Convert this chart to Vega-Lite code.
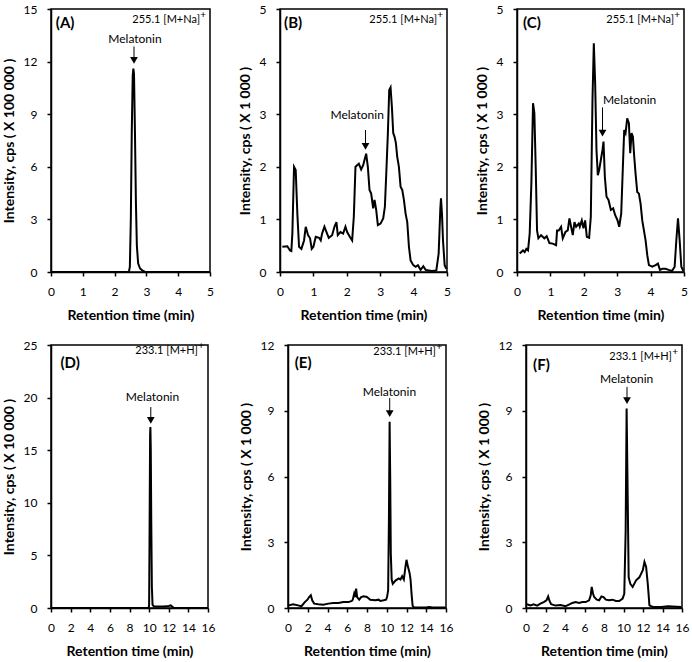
{
"$schema": "https://vega.github.io/schema/vega-lite/v6.json",
"background": "white",
"padding": {"left": 1, "top": 2, "right": 2, "bottom": 2},
"spacing": 15,
"datasets": {
"A": [{"t":0,"i":0},{"t":2.45,"i":0},{"t":2.48,"i":0.3},{"t":2.51,"i":3},{"t":2.54,"i":8},{"t":2.57,"i":11.2},{"t":2.59,"i":11.6},{"t":2.61,"i":11.3},{"t":2.64,"i":8},{"t":2.67,"i":4},{"t":2.7,"i":1.5},{"t":2.74,"i":0.5},{"t":2.8,"i":0.2},{"t":2.88,"i":0.08},{"t":2.95,"i":0.02},{"t":3.05,"i":0},{"t":5,"i":0}],
"B": [{"t":0.07,"i":0.48},{"t":0.22,"i":0.49},{"t":0.3,"i":0.41},{"t":0.34,"i":0.4},{"t":0.37,"i":0.73},{"t":0.42,"i":2.0},{"t":0.47,"i":1.94},{"t":0.52,"i":1.1},{"t":0.57,"i":0.48},{"t":0.64,"i":0.44},{"t":0.72,"i":0.6},{"t":0.77,"i":0.86},{"t":0.84,"i":0.7},{"t":0.9,"i":0.64},{"t":0.95,"i":0.44},{"t":1.0,"i":0.48},{"t":1.07,"i":0.67},{"t":1.17,"i":0.65},{"t":1.22,"i":0.6},{"t":1.26,"i":0.73},{"t":1.33,"i":0.86},{"t":1.41,"i":0.73},{"t":1.46,"i":0.65},{"t":1.56,"i":0.7},{"t":1.63,"i":0.86},{"t":1.69,"i":0.95},{"t":1.73,"i":0.7},{"t":1.81,"i":0.76},{"t":1.89,"i":0.73},{"t":1.96,"i":0.86},{"t":2.01,"i":0.76},{"t":2.09,"i":0.67},{"t":2.16,"i":0.6},{"t":2.21,"i":1.05},{"t":2.26,"i":2.0},{"t":2.31,"i":2.03},{"t":2.36,"i":2.06},{"t":2.43,"i":1.95},{"t":2.49,"i":2.03},{"t":2.53,"i":2.13},{"t":2.58,"i":2.25},{"t":2.63,"i":2.0},{"t":2.68,"i":1.56},{"t":2.73,"i":1.49},{"t":2.79,"i":1.21},{"t":2.83,"i":1.37},{"t":2.88,"i":1.18},{"t":2.93,"i":0.89},{"t":3.01,"i":0.92},{"t":3.09,"i":1.02},{"t":3.14,"i":1.24},{"t":3.19,"i":2.0},{"t":3.23,"i":2.64},{"t":3.27,"i":3.46},{"t":3.31,"i":3.51},{"t":3.35,"i":3.14},{"t":3.39,"i":2.64},{"t":3.43,"i":2.57},{"t":3.47,"i":2.45},{"t":3.51,"i":2.19},{"t":3.56,"i":2.0},{"t":3.61,"i":1.62},{"t":3.66,"i":1.56},{"t":3.71,"i":1.37},{"t":3.76,"i":1.11},{"t":3.81,"i":0.95},{"t":3.86,"i":0.48},{"t":3.91,"i":0.22},{"t":3.99,"i":0.13},{"t":4.06,"i":0.1},{"t":4.13,"i":0.13},{"t":4.21,"i":0.04},{"t":4.29,"i":0.11},{"t":4.36,"i":0.04},{"t":4.45,"i":0.03},{"t":4.55,"i":0.02},{"t":4.68,"i":0.03},{"t":4.75,"i":0.35},{"t":4.8,"i":1.2},{"t":4.82,"i":1.4},{"t":4.85,"i":1.1},{"t":4.88,"i":0.6},{"t":4.93,"i":0.13},{"t":4.98,"i":0.06}],
"C": [{"t":0.08,"i":0.35},{"t":0.18,"i":0.41},{"t":0.23,"i":0.38},{"t":0.28,"i":0.44},{"t":0.33,"i":0.41},{"t":0.38,"i":0.73},{"t":0.43,"i":1.68},{"t":0.48,"i":3.21},{"t":0.52,"i":3.02},{"t":0.56,"i":2.0},{"t":0.6,"i":0.79},{"t":0.64,"i":0.64},{"t":0.72,"i":0.7},{"t":0.82,"i":0.64},{"t":0.89,"i":0.68},{"t":0.97,"i":0.55},{"t":1.07,"i":0.54},{"t":1.17,"i":0.51},{"t":1.2,"i":0.79},{"t":1.25,"i":0.79},{"t":1.32,"i":0.86},{"t":1.37,"i":0.64},{"t":1.45,"i":0.76},{"t":1.52,"i":0.79},{"t":1.57,"i":1.02},{"t":1.62,"i":0.86},{"t":1.67,"i":0.7},{"t":1.72,"i":0.95},{"t":1.77,"i":0.86},{"t":1.85,"i":0.92},{"t":1.88,"i":0.86},{"t":1.94,"i":0.98},{"t":1.99,"i":0.83},{"t":2.04,"i":0.98},{"t":2.09,"i":0.67},{"t":2.16,"i":0.65},{"t":2.21,"i":1.05},{"t":2.26,"i":3.27},{"t":2.3,"i":4.35},{"t":2.34,"i":3.59},{"t":2.38,"i":2.32},{"t":2.42,"i":1.84},{"t":2.46,"i":1.94},{"t":2.51,"i":2.13},{"t":2.56,"i":2.32},{"t":2.59,"i":2.48},{"t":2.63,"i":1.81},{"t":2.68,"i":1.43},{"t":2.74,"i":1.37},{"t":2.81,"i":1.18},{"t":2.88,"i":1.21},{"t":2.94,"i":1.08},{"t":3.01,"i":0.98},{"t":3.06,"i":0.86},{"t":3.12,"i":1.11},{"t":3.17,"i":2.0},{"t":3.21,"i":2.7},{"t":3.25,"i":2.64},{"t":3.3,"i":2.92},{"t":3.35,"i":2.83},{"t":3.39,"i":2.26},{"t":3.43,"i":2.64},{"t":3.47,"i":2.57},{"t":3.51,"i":2.19},{"t":3.55,"i":1.87},{"t":3.6,"i":1.52},{"t":3.65,"i":1.49},{"t":3.7,"i":1.3},{"t":3.75,"i":0.98},{"t":3.8,"i":0.79},{"t":3.85,"i":0.6},{"t":3.9,"i":0.32},{"t":3.95,"i":0.13},{"t":4.05,"i":0.1},{"t":4.15,"i":0.13},{"t":4.22,"i":0.16},{"t":4.28,"i":0.04},{"t":4.35,"i":0.06},{"t":4.45,"i":0.06},{"t":4.54,"i":0.04},{"t":4.64,"i":0.02},{"t":4.72,"i":0.1},{"t":4.77,"i":0.6},{"t":4.82,"i":1.02},{"t":4.87,"i":0.6},{"t":4.92,"i":0.1},{"t":4.98,"i":0.02}],
"D": [{"t":0,"i":0},{"t":9.95,"i":0},{"t":10.0,"i":0.3},{"t":10.05,"i":8},{"t":10.1,"i":16.5},{"t":10.13,"i":17.2},{"t":10.17,"i":15},{"t":10.22,"i":8},{"t":10.28,"i":2},{"t":10.35,"i":0.3},{"t":10.5,"i":0.15},{"t":11.0,"i":0.15},{"t":11.5,"i":0.15},{"t":12.0,"i":0.2},{"t":12.2,"i":0.25},{"t":12.4,"i":0.1},{"t":12.5,"i":0},{"t":16,"i":0}],
"E": [{"t":0.07,"i":0.12},{"t":0.51,"i":0.17},{"t":1.02,"i":0.12},{"t":1.36,"i":0.08},{"t":1.7,"i":0.27},{"t":1.97,"i":0.38},{"t":2.14,"i":0.5},{"t":2.31,"i":0.58},{"t":2.45,"i":0.35},{"t":2.65,"i":0.2},{"t":3.06,"i":0.17},{"t":3.57,"i":0.15},{"t":4.08,"i":0.2},{"t":4.59,"i":0.23},{"t":5.1,"i":0.23},{"t":5.61,"i":0.27},{"t":6.12,"i":0.27},{"t":6.46,"i":0.32},{"t":6.56,"i":0.38},{"t":6.7,"i":0.65},{"t":6.8,"i":0.5},{"t":6.9,"i":0.88},{"t":7.0,"i":0.5},{"t":7.21,"i":0.38},{"t":7.41,"i":0.5},{"t":7.65,"i":0.53},{"t":7.99,"i":0.5},{"t":8.33,"i":0.38},{"t":8.84,"i":0.35},{"t":9.18,"i":0.38},{"t":9.35,"i":0.32},{"t":9.69,"i":0.35},{"t":9.93,"i":0.38},{"t":10.03,"i":0.5},{"t":10.14,"i":0.8},{"t":10.22,"i":4.0},{"t":10.29,"i":8.5},{"t":10.35,"i":6.0},{"t":10.41,"i":2.5},{"t":10.5,"i":1.3},{"t":10.61,"i":1.1},{"t":10.88,"i":1.25},{"t":11.22,"i":1.35},{"t":11.39,"i":1.3},{"t":11.56,"i":1.45},{"t":11.73,"i":1.3},{"t":11.9,"i":1.9},{"t":12.0,"i":2.2},{"t":12.14,"i":1.9},{"t":12.31,"i":1.6},{"t":12.41,"i":1.3},{"t":12.52,"i":0.6},{"t":12.62,"i":0.1},{"t":12.76,"i":0.03},{"t":13.27,"i":0.02},{"t":13.95,"i":0.02},{"t":14.3,"i":0.05},{"t":14.63,"i":0.02},{"t":15.95,"i":0.02}],
"F": [{"t":0.1,"i":0.17},{"t":0.45,"i":0.12},{"t":0.79,"i":0.17},{"t":1.14,"i":0.11},{"t":1.48,"i":0.2},{"t":1.82,"i":0.27},{"t":2.1,"i":0.35},{"t":2.27,"i":0.53},{"t":2.41,"i":0.32},{"t":2.58,"i":0.17},{"t":3.03,"i":0.11},{"t":3.54,"i":0.14},{"t":4.06,"i":0.08},{"t":4.4,"i":0.15},{"t":4.75,"i":0.23},{"t":5.09,"i":0.27},{"t":5.44,"i":0.23},{"t":5.78,"i":0.27},{"t":6.12,"i":0.27},{"t":6.47,"i":0.35},{"t":6.64,"i":0.58},{"t":6.74,"i":0.96},{"t":6.88,"i":0.65},{"t":6.99,"i":0.5},{"t":7.26,"i":0.38},{"t":7.5,"i":0.35},{"t":7.74,"i":0.53},{"t":7.95,"i":0.5},{"t":8.19,"i":0.38},{"t":8.53,"i":0.35},{"t":8.88,"i":0.38},{"t":9.22,"i":0.32},{"t":9.57,"i":0.32},{"t":9.91,"i":0.43},{"t":10.08,"i":0.65},{"t":10.22,"i":3.5},{"t":10.32,"i":9.1},{"t":10.43,"i":5.1},{"t":10.53,"i":1.4},{"t":10.7,"i":1.1},{"t":10.94,"i":0.96},{"t":11.29,"i":1.26},{"t":11.63,"i":1.4},{"t":11.98,"i":1.72},{"t":12.15,"i":2.1},{"t":12.32,"i":1.87},{"t":12.49,"i":1.1},{"t":12.66,"i":0.12},{"t":13.0,"i":0.05},{"t":13.87,"i":0.05},{"t":14.56,"i":0.08},{"t":15.93,"i":0.05}]
},
"vconcat": [
{"hconcat": [
{"width": 159, "height": 263,
 "encoding": {"x": {"field": "t", "type": "quantitative", "scale": {"domain": [0, 5], "nice": false}, "axis": {"values": [0,1,2,3,4,5], "labelOverlap": false, "labelSeparation": -40, "title": "Retention time (min)"}}, "y": {"field": "i", "type": "quantitative", "scale": {"domain": [0, 15], "nice": false}, "axis": {"values": [0,3,6,9,12,15], "labelOverlap": false, "title": "Intensity, cps ( X 100 000 )"}}},
 "layer": [
 {"data": {"name": "A"}, "mark": {"type": "line", "color": "black", "strokeWidth": 2}, "encoding": {}},
 {"data": {"values": [{"t": 0.15, "i": 14.2}]}, "mark": {"type": "text", "text": "(A)", "align": "left", "baseline": "middle", "fontSize": 15, "fontWeight": "bold"}},
 {"data": {"values": [{"t": 5, "i": 14.4}]}, "mark": {"type": "text", "text": "255.1 [M+Na]", "align": "right", "baseline": "middle", "fontSize": 11, "dx": -10}},
 {"data": {"values": [{"t": 5, "i": 14.4}]}, "mark": {"type": "text", "text": "+", "align": "right", "baseline": "middle", "fontSize": 10, "dx": -4, "dy": -5}},
 {"data": {"values": [{"t": 2.64, "i": 13.28}]}, "mark": {"type": "text", "text": "Melatonin", "align": "center", "baseline": "middle", "fontSize": 12}},
 {"data": {"values": [{"t": 2.61, "i": 12.86, "i2": 12.07}]}, "mark": {"type": "rule", "color": "black", "strokeWidth": 1}, "encoding": {"y2": {"field": "i2"}}},
 {"data": {"values": [{"t": 2.61, "i": 12.07}]}, "mark": {"type": "point", "shape": "triangle-down", "filled": true, "color": "black", "size": 60, "opacity": 1}}
]},
{"width": 167, "height": 263,
 "encoding": {"x": {"field": "t", "type": "quantitative", "scale": {"domain": [0, 5], "nice": false}, "axis": {"values": [0,1,2,3,4,5], "labelOverlap": false, "labelSeparation": -40, "title": "Retention time (min)"}}, "y": {"field": "i", "type": "quantitative", "scale": {"domain": [0, 5], "nice": false}, "axis": {"values": [0,1,2,3,4,5], "labelOverlap": false, "title": "Intensity, cps ( X 1 000 )"}}},
 "layer": [
 {"data": {"name": "B"}, "mark": {"type": "line", "color": "black", "strokeWidth": 2}, "encoding": {}},
 {"data": {"values": [{"t": 0.12, "i": 4.73}]}, "mark": {"type": "text", "text": "(B)", "align": "left", "baseline": "middle", "fontSize": 15, "fontWeight": "bold"}},
 {"data": {"values": [{"t": 5, "i": 4.8}]}, "mark": {"type": "text", "text": "255.1 [M+Na]", "align": "right", "baseline": "middle", "fontSize": 11, "dx": -10}},
 {"data": {"values": [{"t": 5, "i": 4.8}]}, "mark": {"type": "text", "text": "+", "align": "right", "baseline": "middle", "fontSize": 10, "dx": -4, "dy": -5}},
 {"data": {"values": [{"t": 2.31, "i": 2.99}]}, "mark": {"type": "text", "text": "Melatonin", "align": "center", "baseline": "middle", "fontSize": 12}},
 {"data": {"values": [{"t": 2.56, "i": 2.7, "i2": 2.39}]}, "mark": {"type": "rule", "color": "black", "strokeWidth": 1}, "encoding": {"y2": {"field": "i2"}}},
 {"data": {"values": [{"t": 2.56, "i": 2.39}]}, "mark": {"type": "point", "shape": "triangle-down", "filled": true, "color": "black", "size": 60, "opacity": 1}}
]},
{"width": 167, "height": 263,
 "encoding": {"x": {"field": "t", "type": "quantitative", "scale": {"domain": [0, 5], "nice": false}, "axis": {"values": [0,1,2,3,4,5], "labelOverlap": false, "labelSeparation": -40, "title": "Retention time (min)"}}, "y": {"field": "i", "type": "quantitative", "scale": {"domain": [0, 5], "nice": false}, "axis": {"values": [0,1,2,3,4,5], "labelOverlap": false, "title": "Intensity, cps ( X 1 000 )"}}},
 "layer": [
 {"data": {"name": "C"}, "mark": {"type": "line", "color": "black", "strokeWidth": 2}, "encoding": {}},
 {"data": {"values": [{"t": 0.18, "i": 4.73}]}, "mark": {"type": "text", "text": "(C)", "align": "left", "baseline": "middle", "fontSize": 15, "fontWeight": "bold"}},
 {"data": {"values": [{"t": 5, "i": 4.8}]}, "mark": {"type": "text", "text": "255.1 [M+Na]", "align": "right", "baseline": "middle", "fontSize": 11, "dx": -10}},
 {"data": {"values": [{"t": 5, "i": 4.8}]}, "mark": {"type": "text", "text": "+", "align": "right", "baseline": "middle", "fontSize": 10, "dx": -4, "dy": -5}},
 {"data": {"values": [{"t": 3.37, "i": 3.27}]}, "mark": {"type": "text", "text": "Melatonin", "align": "center", "baseline": "middle", "fontSize": 12}},
 {"data": {"values": [{"t": 2.56, "i": 3.13, "i2": 2.64}]}, "mark": {"type": "rule", "color": "black", "strokeWidth": 1}, "encoding": {"y2": {"field": "i2"}}},
 {"data": {"values": [{"t": 2.56, "i": 2.64}]}, "mark": {"type": "point", "shape": "triangle-down", "filled": true, "color": "black", "size": 60, "opacity": 1}}
]}
], "spacing": 70, "bounds": "flush"},
{"hconcat": [
{"width": 157, "height": 263,
 "encoding": {"x": {"field": "t", "type": "quantitative", "scale": {"domain": [0, 16], "nice": false}, "axis": {"values": [0,2,4,6,8,10,12,14,16], "labelOverlap": false, "labelSeparation": -40, "title": "Retention time (min)"}}, "y": {"field": "i", "type": "quantitative", "scale": {"domain": [0, 25], "nice": false}, "axis": {"values": [0,5,10,15,20,25], "labelOverlap": false, "title": "Intensity, cps ( X 10 000 )"}}},
 "layer": [
 {"data": {"name": "D"}, "mark": {"type": "line", "color": "black", "strokeWidth": 2}, "encoding": {}},
 {"data": {"values": [{"t": 0.96, "i": 23.3}]}, "mark": {"type": "text", "text": "(D)", "align": "left", "baseline": "middle", "fontSize": 15, "fontWeight": "bold"}},
 {"data": {"values": [{"t": 16, "i": 24.4}]}, "mark": {"type": "text", "text": "233.1 [M+H]", "align": "right", "baseline": "middle", "fontSize": 11, "dx": -10}},
 {"data": {"values": [{"t": 16, "i": 24.4}]}, "mark": {"type": "text", "text": "+", "align": "right", "baseline": "middle", "fontSize": 10, "dx": -4, "dy": -5}},
 {"data": {"values": [{"t": 10.34, "i": 20.1}]}, "mark": {"type": "text", "text": "Melatonin", "align": "center", "baseline": "middle", "fontSize": 12}},
 {"data": {"values": [{"t": 10.17, "i": 19.1, "i2": 17.83}]}, "mark": {"type": "rule", "color": "black", "strokeWidth": 1}, "encoding": {"y2": {"field": "i2"}}},
 {"data": {"values": [{"t": 10.17, "i": 17.83}]}, "mark": {"type": "point", "shape": "triangle-down", "filled": true, "color": "black", "size": 60, "opacity": 1}}
]},
{"width": 158, "height": 263,
 "encoding": {"x": {"field": "t", "type": "quantitative", "scale": {"domain": [0, 16], "nice": false}, "axis": {"values": [0,2,4,6,8,10,12,14,16], "labelOverlap": false, "labelSeparation": -40, "title": "Retention time (min)"}}, "y": {"field": "i", "type": "quantitative", "scale": {"domain": [0, 12], "nice": false}, "axis": {"values": [0,3,6,9,12], "labelOverlap": false, "title": "Intensity, cps ( X 1 000 )"}}},
 "layer": [
 {"data": {"name": "E"}, "mark": {"type": "line", "color": "black", "strokeWidth": 2}, "encoding": {}},
 {"data": {"values": [{"t": 0.68, "i": 11.16}]}, "mark": {"type": "text", "text": "(E)", "align": "left", "baseline": "middle", "fontSize": 15, "fontWeight": "bold"}},
 {"data": {"values": [{"t": 16, "i": 11.7}]}, "mark": {"type": "text", "text": "233.1 [M+H]", "align": "right", "baseline": "middle", "fontSize": 11, "dx": -10}},
 {"data": {"values": [{"t": 16, "i": 11.7}]}, "mark": {"type": "text", "text": "+", "align": "right", "baseline": "middle", "fontSize": 10, "dx": -4, "dy": -5}},
 {"data": {"values": [{"t": 10.27, "i": 9.86}]}, "mark": {"type": "text", "text": "Melatonin", "align": "center", "baseline": "middle", "fontSize": 12}},
 {"data": {"values": [{"t": 10.3, "i": 9.58, "i2": 8.87}]}, "mark": {"type": "rule", "color": "black", "strokeWidth": 1}, "encoding": {"y2": {"field": "i2"}}},
 {"data": {"values": [{"t": 10.3, "i": 8.87}]}, "mark": {"type": "point", "shape": "triangle-down", "filled": true, "color": "black", "size": 60, "opacity": 1}}
]},
{"width": 156, "height": 263,
 "encoding": {"x": {"field": "t", "type": "quantitative", "scale": {"domain": [0, 16], "nice": false}, "axis": {"values": [0,2,4,6,8,10,12,14,16], "labelOverlap": false, "labelSeparation": -40, "title": "Retention time (min)"}}, "y": {"field": "i", "type": "quantitative", "scale": {"domain": [0, 12], "nice": false}, "axis": {"values": [0,3,6,9,12], "labelOverlap": false, "title": "Intensity, cps ( X 1 000 )"}}},
 "layer": [
 {"data": {"name": "F"}, "mark": {"type": "line", "color": "black", "strokeWidth": 2}, "encoding": {}},
 {"data": {"values": [{"t": 0.72, "i": 11.08}]}, "mark": {"type": "text", "text": "(F)", "align": "left", "baseline": "middle", "fontSize": 15, "fontWeight": "bold"}},
 {"data": {"values": [{"t": 16, "i": 11.46}]}, "mark": {"type": "text", "text": "233.1 [M+H]", "align": "right", "baseline": "middle", "fontSize": 11, "dx": -10}},
 {"data": {"values": [{"t": 16, "i": 11.46}]}, "mark": {"type": "text", "text": "+", "align": "right", "baseline": "middle", "fontSize": 10, "dx": -4, "dy": -5}},
 {"data": {"values": [{"t": 10.32, "i": 10.47}]}, "mark": {"type": "text", "text": "Melatonin", "align": "center", "baseline": "middle", "fontSize": 12}},
 {"data": {"values": [{"t": 10.36, "i": 10.09, "i2": 9.46}]}, "mark": {"type": "rule", "color": "black", "strokeWidth": 1}, "encoding": {"y2": {"field": "i2"}}},
 {"data": {"values": [{"t": 10.36, "i": 9.46}]}, "mark": {"type": "point", "shape": "triangle-down", "filled": true, "color": "black", "size": 60, "opacity": 1}}
]}
], "spacing": 80, "bounds": "flush"}
],
"config": {
 "view": {"stroke": "black", "strokeWidth": 1.5},
 "axis": {"grid": false, "domainColor": "black", "domainWidth": 1.5, "tickColor": "black", "tickWidth": 1.5, "tickSize": 4, "labelColor": "black", "labelFont": "Lato", "labelFontSize": 12, "labelFlush": false, "labelOverlap": false, "titleColor": "black", "titleFont": "Lato", "titleFontSize": 14, "titleFontWeight": "bold"},
 "axisX": {"labelPadding": 10, "titlePadding": 11},
 "axisY": {"labelPadding": 10, "titlePadding": 7},
 "text": {"font": "Lato", "color": "black"}
}
}
